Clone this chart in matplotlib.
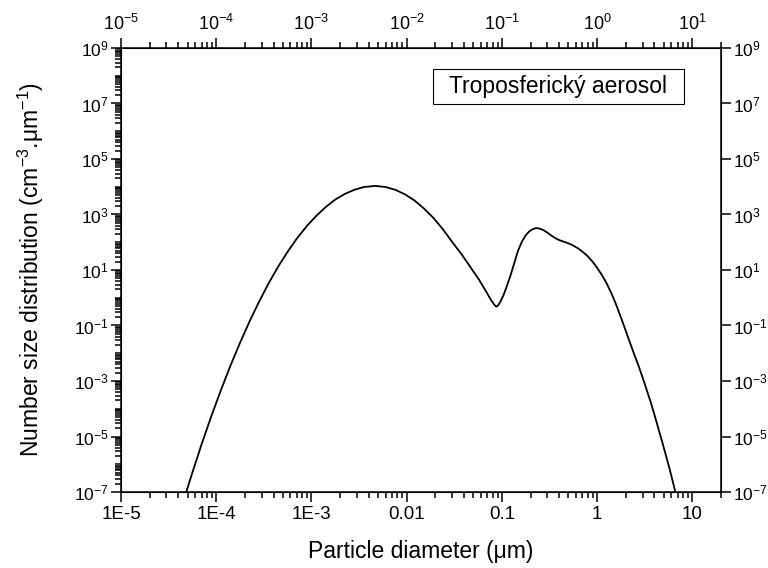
import matplotlib
matplotlib.use("Agg")
import matplotlib.pyplot as plt
import numpy as np
from matplotlib.patches import Rectangle
from matplotlib.ticker import FixedLocator, FuncFormatter, LogLocator, NullFormatter

plt.rcParams["font.family"] = ["Liberation Sans", "DejaVu Sans"]
plt.rcParams["mathtext.fontset"] = "custom"
plt.rcParams["mathtext.rm"] = "Liberation Sans"
plt.rcParams["mathtext.it"] = "Liberation Sans:italic"
plt.rcParams["axes.unicode_minus"] = False

# curve, as log10 of diameter (um) and log10 of dN/dD
log_d = [-4.315, -4.25, -4.15, -4.05, -3.95, -3.85, -3.75, -3.65, -3.55, -3.45,
         -3.35, -3.25, -3.15, -3.05, -2.95, -2.85, -2.75, -2.65, -2.55, -2.45,
         -2.33, -2.22, -2.12, -2.02, -1.92, -1.82, -1.72, -1.62, -1.52, -1.42,
         -1.32, -1.24, -1.17, -1.12, -1.08, -1.06, -1.04, -1.01, -0.98, -0.95,
         -0.91, -0.87, -0.83, -0.79, -0.75, -0.71, -0.67, -0.64, -0.60, -0.56,
         -0.52, -0.48, -0.44, -0.40, -0.35, -0.30, -0.25, -0.20, -0.15, -0.10,
         -0.05, 0.00, 0.05, 0.10, 0.15, 0.20, 0.26, 0.32, 0.38, 0.435,
         0.50, 0.571, 0.63, 0.696, 0.76, 0.822]
log_n = [-7.00, -6.29, -5.24, -4.25, -3.32, -2.44, -1.62, -0.85, -0.14, 0.52,
         1.12, 1.66, 2.15, 2.58, 2.95, 3.27, 3.54, 3.74, 3.89, 3.99,
         4.03, 3.99, 3.89, 3.73, 3.51, 3.22, 2.88, 2.47, 2.00, 1.55,
         1.05, 0.65, 0.25, -0.05, -0.25, -0.32, -0.28, -0.10, 0.12, 0.40,
         0.80, 1.25, 1.70, 2.02, 2.25, 2.40, 2.48, 2.51, 2.49, 2.43,
         2.34, 2.24, 2.15, 2.08, 2.02, 1.96, 1.88, 1.78, 1.65, 1.50,
         1.31, 1.08, 0.82, 0.52, 0.16, -0.25, -0.80, -1.38, -1.95, -2.45,
         -3.10, -3.85, -4.55, -5.35, -6.15, -7.00]

x_major = [1e-5, 1e-4, 1e-3, 1e-2, 1e-1, 1, 10]
x_labels_bottom = ["1E-5", "1E-4", "1E-3", "0.01", "0.1", "1", "10"]
y_major = [10.0 ** e for e in range(-7, 10, 2)]
legend_text = "Troposferický aerosol"

diam = 10.0 ** np.array(log_d)
dens = 10.0 ** np.array(log_n)


def pow10(v, pos):
    return r"$\mathregular{10^{%d}}$" % round(np.log10(v))


def style_ticks(a, axis="both"):
    a.tick_params(axis=axis, which="both", direction="out", width=1.1)
    a.tick_params(axis=axis, which="major", length=7)
    a.tick_params(axis=axis, which="minor", length=4)


fig = plt.figure(figsize=(7.68, 5.68), dpi=100)
ax = fig.add_axes([0.1576, 0.1338, 0.7812, 0.7817])
ax.plot(diam, dens, color="black", linewidth=1.3)
ax.set_xscale("log")
ax.set_yscale("log")
ax.set_xlim(1e-5, 20)
ax.set_ylim(1e-7, 1e9)

ax.xaxis.set_major_locator(FixedLocator(x_major))
ax.set_xticklabels(x_labels_bottom)
ax.xaxis.set_minor_locator(LogLocator(base=10, subs=np.arange(2, 10), numticks=50))
ax.xaxis.set_minor_formatter(NullFormatter())

ax.yaxis.set_major_locator(FixedLocator(y_major))
ax.yaxis.set_major_formatter(FuncFormatter(pow10))
ax.yaxis.set_minor_locator(LogLocator(base=10, subs=np.arange(1, 10), numticks=50))
ax.yaxis.set_minor_formatter(NullFormatter())

style_ticks(ax)
ax.tick_params(axis="x", labelsize=13.5, pad=3)
ax.tick_params(axis="y", labelsize=12.5, pad=2)
ax.tick_params(left=True, right=True, bottom=True, top=False, labelright=True)
for s in ax.spines.values():
    s.set_linewidth(1.1)

# top axis with power-of-ten labels
ax_top = ax.twiny()
ax_top.set_xscale("log")
ax_top.set_xlim(ax.get_xlim())
ax_top.xaxis.set_major_locator(FixedLocator(x_major))
ax_top.xaxis.set_major_formatter(FuncFormatter(pow10))
ax_top.xaxis.set_minor_locator(LogLocator(base=10, subs=np.arange(2, 10), numticks=50))
ax_top.xaxis.set_minor_formatter(NullFormatter())
style_ticks(ax_top, axis="x")
ax_top.tick_params(axis="x", labelsize=13, pad=3)

ax.set_xlabel("Particle diameter (μm)", fontsize=16.5, labelpad=12)
ax.set_ylabel(r"Number size distribution (cm$^{\mathregular{-3}}$.μm$^{\mathregular{-1}}$)",
              fontsize=16.5, labelpad=20)

# legend-like label box
ax.add_patch(Rectangle((0.52, 0.874), 0.418, 0.079, transform=ax.transAxes,
                       facecolor="white", edgecolor="black", linewidth=0.8, zorder=3))
ax.text(0.729, 0.913, legend_text, transform=ax.transAxes, ha="center", va="center",
        fontsize=16.5, zorder=4)

fig.savefig("out.png", dpi=100)
